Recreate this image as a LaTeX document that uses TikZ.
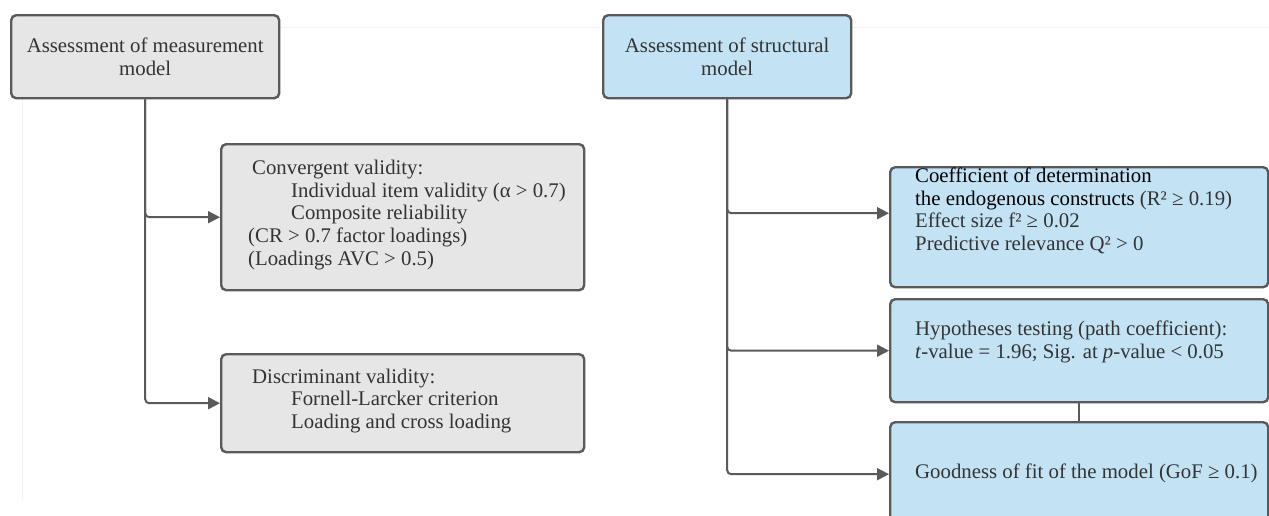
\documentclass[tikz,border=0pt]{standalone}
\usepackage{fontspec}
\setmainfont{Liberation Serif}
\usetikzlibrary{arrows.meta}
\definecolor{edgec}{HTML}{5A5A5A}
\definecolor{grayfill}{HTML}{E6E6E6}
\definecolor{bluefill}{HTML}{C3E3F5}
\definecolor{txtc}{HTML}{333333}
\definecolor{faint}{HTML}{F2F2F2}
\begin{document}
\begin{tikzpicture}[x=1pt,y=-1pt,
  box/.style={draw=edgec, line width=2.4pt, rounded corners=5pt, inner sep=0pt, anchor=north west,
    text=txtc, font=\fontsize{20.8}{22.7}\selectfont, align=center},
  graybox/.style={box, fill=grayfill},
  bluebox/.style={box, fill=bluefill},
  boxtext/.style={inner sep=0pt, text=txtc, font=\fontsize{20.8}{22.7}\selectfont, align=left, anchor=west},
  conn/.style={draw=edgec, line width=2pt, rounded corners=4pt, -{Triangle[length=12pt,width=12pt]}},
  link/.style={draw=edgec, line width=2pt}]
\useasboundingbox[fill=white] (0,0) rectangle (1269,515);
\draw[faint, line width=1pt] (22,500) -- (22,27) -- (600,27);
\draw[faint, line width=1pt] (850,27) -- (1269,27);

% boxes
\node[graybox, minimum width=268pt, minimum height=83pt] (A) at (10,14) {Assessment of measurement\\model};
\node[bluebox, minimum width=248pt, minimum height=83pt] (B) at (602,14) {Assessment of structural\\model};
\node[graybox, minimum width=363pt, minimum height=146pt] (conv) at (220,143) {};
\node[graybox, minimum width=363pt, minimum height=98pt] (disc) at (220,353) {};
\node[bluebox, minimum width=378pt, minimum height=120pt] (C) at (889,166) {};
\node[bluebox, minimum width=378pt, minimum height=103pt] (D) at (889,298) {};
\node[bluebox, minimum width=378pt, minimum height=104pt] (E) at (889,421) {};

% texts
\node[boxtext] (convt) at (248,215) {\hspace{4pt}Convergent validity:\\
  \hspace{43pt}Individual item validity (α > 0.7)\\
  \hspace{43pt}Composite reliability\\
  (CR > 0.7 factor loadings)\\
  (Loadings AVC > 0.5)};
\node[boxtext] (disct) at (252,401) {Discriminant validity:\\
  \hspace{39pt}Fornell-Larcker criterion\\
  \hspace{39pt}Loading and cross loading};
\node[boxtext] (Ct) at (915,211) {\textcolor{black}{Coefficient of determination}\\
  \textcolor{black}{the endogenous constructs }(R² ≥ 0.19)\\
  Effect size f² ≥ 0.02\\
  Predictive relevance Q² > 0};
\node[boxtext] (Dt) at (915,342) {Hypotheses testing (path coefficient):\\
  \textit{t}-value = 1.96; Sig. at \textit{p}-value < 0.05};
\node[boxtext] (Et) at (915,473) {Goodness of fit of the model (GoF ≥ 0.1)};

% connectors
\draw[conn] (A.south) |- (conv.west);
\draw[conn] (A.south) |- (disc.west);
\draw[conn] (B.south) |- ([yshift=14pt]C.west);
\draw[conn] (B.south) |- (D.west);
\draw[conn] (B.south) |- (E.west);
\draw[link] (D.south) -- (E.north);
\end{tikzpicture}
\end{document}
